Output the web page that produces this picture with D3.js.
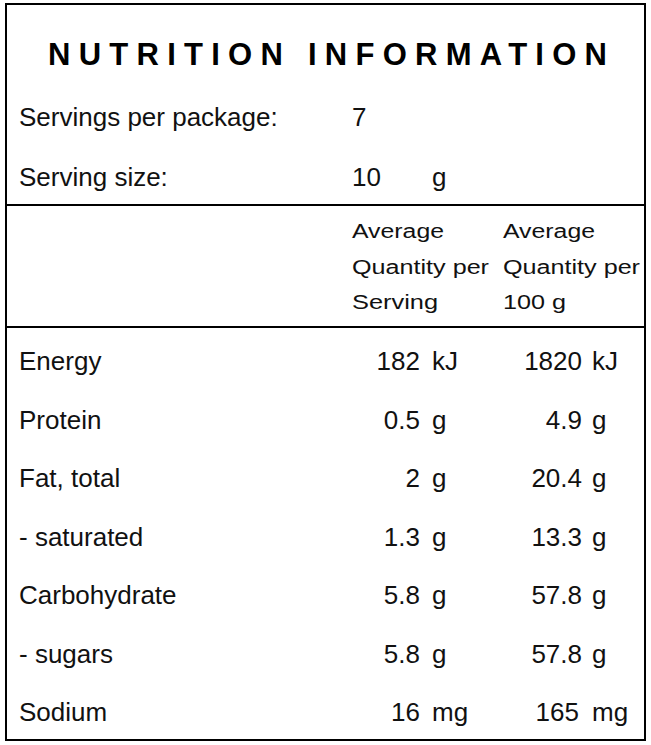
<!DOCTYPE html>
<html><head><meta charset="utf-8">
<script src="https://cdn.jsdelivr.net/npm/d3@7"></script>
<style>body{margin:0;background:#fff}</style></head>
<body><svg id="c" width="651" height="745"></svg>
<script>
const title = "NUTRITION INFORMATION";
const servingsPerPackage = "7";
const servingSize = "10";
const servingUnit = "g";
const headerPerServing = ["Average", "Quantity per", "Serving"];
const headerPer100 = ["Average", "Quantity per", "100 g"];
const nutrients = ["Energy", "Protein", "Fat, total", "- saturated", "Carbohydrate", "- sugars", "Sodium"];
const perServing = ["182", "0.5", "2", "1.3", "5.8", "5.8", "16"];
const per100g = ["1820", "4.9", "20.4", "13.3", "57.8", "57.8", "165"];
const units = ["kJ", "g", "g", "g", "g", "g", "mg"];

const svg = d3.select("#c");
const F = "'Liberation Sans', 'DejaVu Sans', sans-serif";
svg.append("rect").attr("x",6).attr("y",4).attr("width",639).attr("height",736)
  .attr("fill","none").attr("stroke","#000").attr("stroke-width",2);
[205,327].forEach(y=>svg.append("line").attr("x1",6).attr("x2",645).attr("y1",y).attr("y2",y)
  .attr("stroke","#000").attr("stroke-width",2));
svg.append("text").attr("x",48).attr("y",65)
  .attr("font-family",F).attr("font-weight","bold").attr("font-size",31)
  .attr("textLength",559).attr("lengthAdjust","spacing")
  .text(title);
const t = (x,y,s,size,anchor)=>svg.append("text").attr("x",x).attr("y",y).attr("font-family",F)
  .attr("font-size",size).attr("text-anchor",anchor||"start").attr("fill","#111").text(s);
t(19,126,"Servings per package:",26);
t(352,126,servingsPerPackage,26);
t(19,186,"Serving size:",26);
t(352,186,servingSize,26);
t(432,186,servingUnit,26);
const hy = d3.scaleLinear().domain([0,2]).range([238,309]);
const hw = {"Average":92,"Quantity per":137,"Serving":86,"100 g":63};
const ht = (x,yy,s)=>t(x,yy,s,20).attr("textLength",hw[s]).attr("lengthAdjust","spacingAndGlyphs");
headerPerServing.forEach((s,i)=>ht(352,hy(i),s));
headerPer100.forEach((s,i)=>ht(503,hy(i),s));
const y = d3.scalePoint().domain(nutrients).range([370,721]);
nutrients.forEach((n,i)=>{
  const yy=y(n);
  t(19,yy,n,26);
  t(420,yy,perServing[i],26,"end");
  t(432,yy,units[i],26);
  t(i===6?579:582,yy,per100g[i],26,"end");
  t(592,yy,units[i],26);
});
</script></body></html>
